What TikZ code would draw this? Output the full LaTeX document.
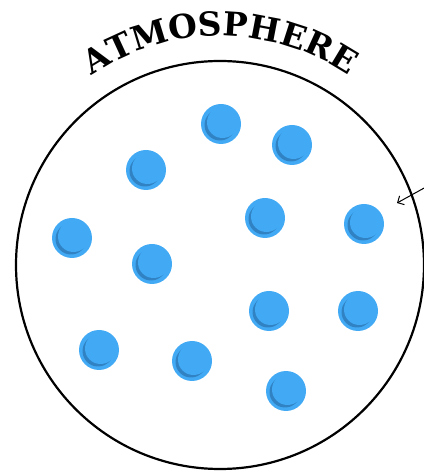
\documentclass[tikz,border=0pt]{standalone}
\usepackage{fontspec}
\newfontfamily\atmfont{DejaVu Serif}
\usetikzlibrary{decorations.text,arrows.meta,calc}
\definecolor{molblue}{RGB}{66,170,245}
\definecolor{molshade}{RGB}{48,130,195}
\tikzset{
  mol/.style={circle, fill=molblue, minimum size=40pt, inner sep=0pt,
    path picture={
      \fill[molshade] ($(path picture bounding box.center)+(-1pt,-1pt)$) circle[radius=15.5pt];
      \fill[molblue] ($(path picture bounding box.center)+(1.5pt,1.5pt)$) circle[radius=15.5pt];
    }},
  atmo/.style={circle, draw=black, line width=2.2pt, minimum size=408pt, inner sep=0pt},
  pointer/.style={line width=1pt, -{Straight Barb[length=5pt,width=10pt]}}
}
\begin{document}
\begin{tikzpicture}[x=1pt,y=1pt]
\useasboundingbox (0,0) rectangle (423,471);
\node[atmo] (atm) at (220,206) {};
\path[decorate, decoration={text along path, text align=center,
  text={|\atmfont\bfseries\fontsize{33}{36}\selectfont|ATMOSPHERE}}]
  (220,206) ++(128:229) arc[start angle=128, end angle=52, radius=229];
\node[mol] (m1) at (221,347) {};
\node[mol] (m2) at (292,326) {};
\node[mol] (m3) at (146,301) {};
\node[mol] (m4) at (265,253) {};
\node[mol] (m5) at (364,247) {};
\node[mol] (m6) at (72,233) {};
\node[mol] (m7) at (152,207) {};
\node[mol] (m8) at (269,160) {};
\node[mol] (m9) at (358,160) {};
\node[mol] (m10) at (99,121) {};
\node[mol] (m11) at (192,110) {};
\node[mol] (m12) at (286,80) {};
\coordinate (p0) at (426,284);
\coordinate (p1) at (397,268);
\draw[pointer] (p0) -- (p1);
\end{tikzpicture}
\end{document}
